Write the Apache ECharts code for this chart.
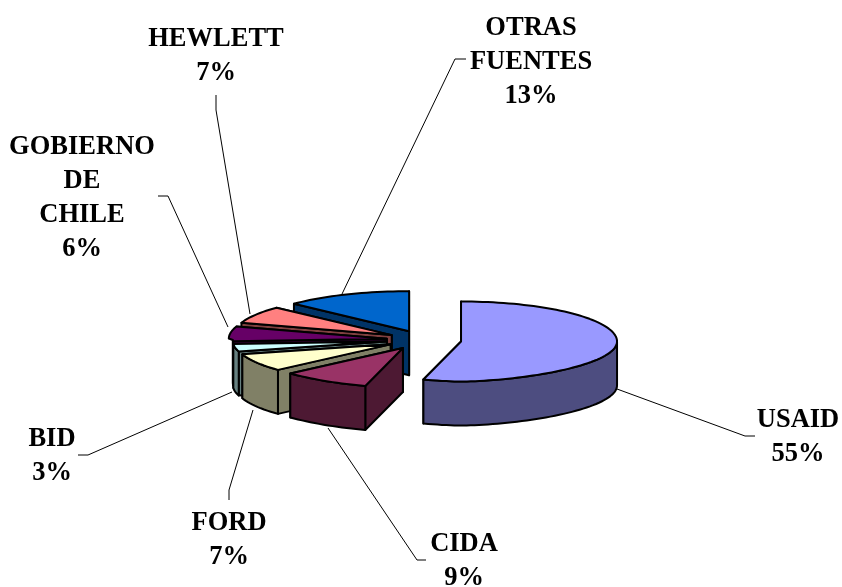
<!DOCTYPE html>
<html><head><meta charset="utf-8">
<style>html,body{margin:0;padding:0;background:#fff}#c{width:842px;height:587px}</style>
<script src="https://cdn.jsdelivr.net/npm/echarts@6/dist/echarts.min.js"></script>
</head><body><div id="c"></div>
<script>
const categories = ['USAID','CIDA','FORD','BID','GOBIERNO\nDE\nCHILE','HEWLETT','OTRAS\nFUENTES'];
const shares = [55,9,7,3,6,7,13];
const topColors = ['#9999FF','#993366','#FFFFCC','#CCFFFF','#660066','#FF8080','#0066CC'];
const sideColors = ['#4D4D80','#4D1933','#808066','#668080','#330033','#804040','#003366'];
// label centre [x, first-line y] and leader waypoints (layout only)
const labelAt = [[798,420],[464,544],[229,523],[52,439],[82,147],[216,39],[531,28]];
const leaders = [
 [[617,389],[745,436],[755,436]],
 [[328,428],[417,560],[426,560]],
 [[253,410],[229,490],[229,500]],
 [[232,392],[88,455],[78,455]],
 [[228,327],[168,196],[158,196]],
 [[250,314],[216,110],[216,95]],
 [[342,294],[455,59],[466,59]]
];
const P = {cx:424, cy:340, rxRight:156, rxNearLeft:154, rxBackLeft:158, nearPow:1.2, ry:40, depth:44, explode:37.5, font:26.5, lh:34};
const total = shares.reduce((a,b)=>a+b,0);
function rim(o,deg){
  const t=deg*Math.PI/180,s=Math.sin(t),c=Math.cos(t);
  const sx=c<0?Math.sign(s)*Math.pow(Math.abs(s),P.nearPow):s;
  const rx=s>=0?P.rxRight:(c<0?P.rxNearLeft:P.rxBackLeft);
  return [o[0]+rx*sx,o[1]-P.ry*c];
}
function shift(deg){const t=deg*Math.PI/180;return [P.cx+P.explode*Math.sin(t),P.cy-P.explode*P.ry/P.rxRight*Math.cos(t)];}
function arc(o,a,b,dy){const n=Math.max(2,Math.ceil((b-a)/2)),out=[];for(let i=0;i<=n;i++){const p=rim(o,a+(b-a)*i/n);out.push([p[0],p[1]+(dy||0)]);}return out;}
function renderItem(params,api){
  const i=params.dataIndex;
  let before=0;for(let k=0;k<i;k++)before+=shares[k];
  const a=before/total*360,b=a+api.value(0)/total*360;
  const o=shift((a+b)/2);
  const z=(categories.length-i)*10;
  const style={stroke:'#000',lineWidth:2,lineJoin:'round'};
  const kids=[];
  const poly=(points,fill,zz)=>kids.push({type:'polygon',z2:z+zz,shape:{points},style:Object.assign({fill},style)});
  const walls=[a,b].map(d=>rim(o,d)).sort((p,q)=>p[1]-q[1]);
  walls.forEach((e,n)=>poly([o,e,[e[0],e[1]+P.depth],[o[0],o[1]+P.depth]],sideColors[i],n));
  const s=Math.max(a,90),f=Math.min(b,270);
  if(f>s){const top=arc(o,s,f,0),bot=arc(o,s,f,P.depth).reverse();poly(top.concat(bot),sideColors[i],2);}
  poly([o].concat(arc(o,a,b,0)),topColors[i],3);
  kids.push({type:'polyline',z2:1,shape:{points:leaders[i]},style:{stroke:'#000',lineWidth:1,fill:null}});
  const lines=(categories[i]+'\n'+api.value(0)+'%').split('\n');
  lines.forEach((t,k)=>kids.push({type:'text',z2:500,style:{text:t,x:labelAt[i][0],y:labelAt[i][1]+k*P.lh,align:'center',verticalAlign:'middle',font:'bold '+P.font+'px "Liberation Serif"',fill:'#000'}}));
  return {type:'group',children:kids};
}
const chart=echarts.init(document.getElementById('c'),null,{renderer:'canvas'});
chart.setOption({animation:false,backgroundColor:'#fff',
  series:[{type:'custom',coordinateSystem:'none',renderItem,data:shares.map(v=>[v]),silent:true}]});
</script></body></html>
